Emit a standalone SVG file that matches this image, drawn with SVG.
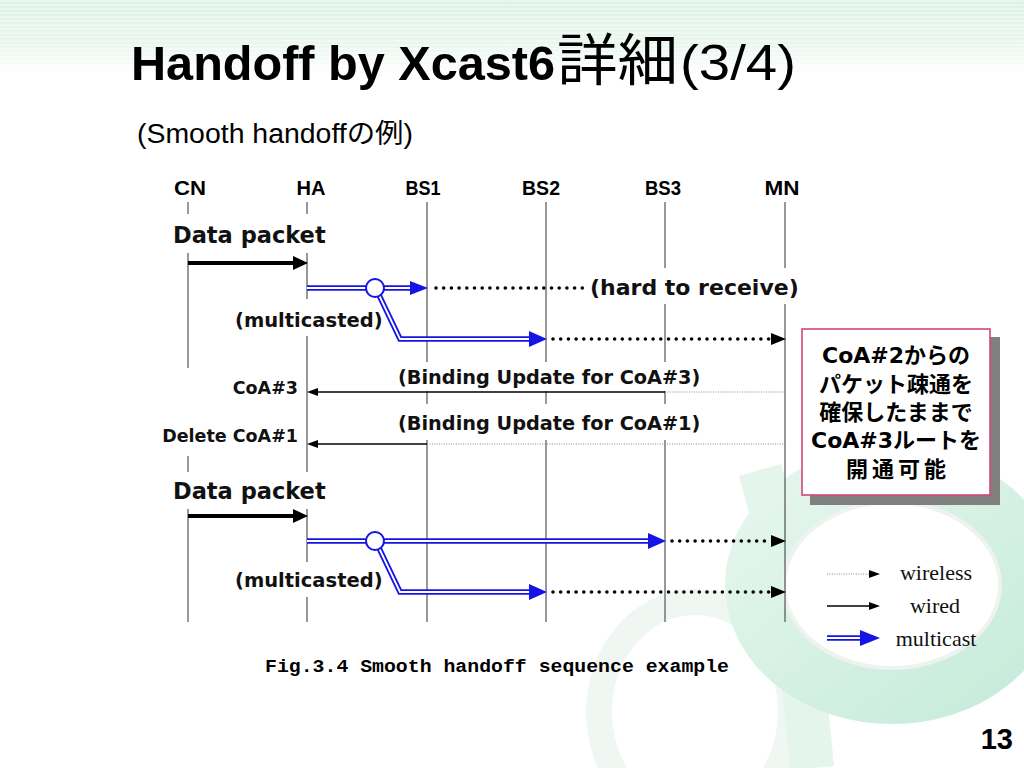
<svg xmlns="http://www.w3.org/2000/svg" width="1024" height="768" viewBox="0 0 1024 768">
<defs>
<linearGradient id="topband" x1="0" y1="0" x2="0" y2="1">
<stop offset="0" stop-color="#dcf2e6"/>
<stop offset="0.6" stop-color="#e9f7ef"/>
<stop offset="1" stop-color="#ffffff"/>
</linearGradient>
<pattern id="stripes" width="8" height="4" patternUnits="userSpaceOnUse">
<rect width="8" height="2" fill="#ffffff" fill-opacity="0.35"/>
</pattern>
<linearGradient id="ring" x1="0" y1="0" x2="1" y2="1">
<stop offset="0" stop-color="#e6f6ee"/>
<stop offset="1" stop-color="#c6ecda"/>
</linearGradient>
<style>
.life{stroke:#333;stroke-width:1;fill:none}
.wipe{fill:#ffffff}
.b{font-family:"DejaVu Sans","Noto Sans CJK JP",sans-serif;font-weight:bold;fill:#111}
.hd{font-family:"Liberation Sans","Noto Sans CJK JP",sans-serif;font-weight:bold;font-size:21px;fill:#000;text-anchor:middle}
.thick{stroke:#000;stroke-width:4;fill:none}
.wired{stroke:#000;stroke-width:1.4;fill:none}
.mco{stroke:#1414e6;stroke-width:5.5;fill:none}
.mci{stroke:#ffffff;stroke-width:1.8;fill:none}
.dots{stroke:#000;stroke-width:3.6;stroke-dasharray:0 7.7;stroke-linecap:round;fill:none}
.wl{stroke:#8a8a8a;stroke-width:1;stroke-dasharray:1 1.4;fill:none}
.ah{fill:#000}
.bh{fill:#1414e6}
.leg{font-family:"Liberation Serif",serif;font-size:22px;fill:#111;text-anchor:middle}
.box{font-family:"DejaVu Sans","Noto Sans CJK JP",sans-serif;font-weight:bold;font-size:22px;fill:#000;text-anchor:middle}
</style>
</defs>

<!-- background -->
<rect width="1024" height="768" fill="#ffffff"/>
<rect x="0" y="0" width="1024" height="74" fill="url(#topband)"/>
<rect x="0" y="0" width="1024" height="66" fill="url(#stripes)"/>
<g id="background-infinity">
<ellipse cx="695" cy="712" rx="96" ry="110" fill="none" stroke="#f0f7f3" stroke-width="26"/>
<path d="M760,470 C780,540 800,630 812,768" fill="none" stroke="#e4f5ec" stroke-width="44"/>
<ellipse cx="892" cy="585" rx="138" ry="110" fill="none" stroke="url(#ring)" stroke-width="58"/>
<ellipse cx="892" cy="585" rx="108" ry="83" fill="#ffffff" stroke="#eef3f0" stroke-width="4"/>
</g>

<!-- title -->
<g id="title">
<text x="131" y="80" font-family="Liberation Sans, sans-serif" font-weight="bold" font-size="48" textLength="424" lengthAdjust="spacingAndGlyphs">Handoff by Xcast6</text>
<text x="557" y="80" font-family="Noto Sans CJK JP, sans-serif" font-size="56" textLength="121" lengthAdjust="spacingAndGlyphs">詳細</text>
<text x="680" y="80" font-family="Liberation Sans, sans-serif" font-size="50" textLength="116" lengthAdjust="spacingAndGlyphs">(3/4)</text>
</g>
<text id="subtitle" x="137" y="143" font-family="Liberation Sans, Noto Sans CJK JP, sans-serif" font-size="27" textLength="276" lengthAdjust="spacingAndGlyphs">(Smooth handoffの例)</text>

<!-- lifelines -->
<g id="lifelines">
<line class="life" x1="188" y1="202" x2="188" y2="622"/>
<line class="life" x1="307" y1="202" x2="307" y2="622"/>
<line class="life" x1="427" y1="202" x2="427" y2="622"/>
<line class="life" x1="546" y1="202" x2="546" y2="622"/>
<line class="life" x1="665" y1="202" x2="665" y2="622"/>
<line class="life" x1="785" y1="202" x2="785" y2="622"/>
</g>
<g id="headers">
<text class="hd" x="190" y="195" textLength="32" lengthAdjust="spacingAndGlyphs">CN</text>
<text class="hd" x="311" y="195" textLength="29" lengthAdjust="spacingAndGlyphs">HA</text>
<text class="hd" x="423" y="195" textLength="35" lengthAdjust="spacingAndGlyphs">BS1</text>
<text class="hd" x="541" y="195" textLength="38" lengthAdjust="spacingAndGlyphs">BS2</text>
<text class="hd" x="663" y="195" textLength="36" lengthAdjust="spacingAndGlyphs">BS3</text>
<text class="hd" x="782" y="195" textLength="35" lengthAdjust="spacingAndGlyphs">MN</text>
</g>

<!-- label backgrounds (break the lifelines) -->
<g id="label-wipes">
<rect class="wipe" x="168" y="214" width="164" height="39"/>
<rect class="wipe" x="586" y="268" width="220" height="36"/>
<rect class="wipe" x="230" y="299" width="155" height="37"/>
<rect class="wipe" x="393" y="362" width="312" height="29"/>
<rect class="wipe" x="393" y="404" width="312" height="36"/>
<rect class="wipe" x="160" y="368" width="141" height="88"/>
<rect class="wipe" x="168" y="472" width="164" height="37"/>
<rect class="wipe" x="230" y="562" width="155" height="35"/>
</g>

<!-- connectors -->
<g id="connectors">
<line class="thick" x1="188" y1="263" x2="296" y2="263"/>
<polygon class="ah" points="293,256 308,263 293,270"/>
<path class="mco" d="M307,288 H367 M383,288 H412"/>
<path class="mci" d="M307,288 H367 M383,288 H412"/>
<polygon class="bh" points="410,281 428,288 410,295"/>
<path class="mco" d="M379,295 L400,339 H532"/>
<path class="mci" d="M379,295 L400,339 H532"/>
<polygon class="bh" points="529,331 547,339 529,347"/>
<circle cx="375" cy="288" r="9" fill="#ffffff" stroke="#1414e6" stroke-width="2"/>
<line class="dots" x1="436" y1="288" x2="583" y2="288"/>
<line class="dots" x1="553" y1="339" x2="770" y2="339"/>
<polygon class="ah" points="771,333 786,339 771,345"/>

<line class="wired" x1="665" y1="392" x2="316" y2="392"/>
<polygon class="ah" points="307,392 318,388 318,396"/>
<line class="wl" x1="665" y1="392" x2="785" y2="392"/>
<line class="wired" x1="427" y1="444" x2="316" y2="444"/>
<polygon class="ah" points="307,444 318,440 318,448"/>
<line class="wl" x1="427" y1="444" x2="785" y2="444"/>

<line class="thick" x1="188" y1="516" x2="296" y2="516"/>
<polygon class="ah" points="293,509 308,516 293,523"/>
<path class="mco" d="M307,541 H367 M383,541 H651"/>
<path class="mci" d="M307,541 H367 M383,541 H651"/>
<polygon class="bh" points="648,533 666,541 648,549"/>
<path class="mco" d="M379,548 L400,592 H532"/>
<path class="mci" d="M379,548 L400,592 H532"/>
<polygon class="bh" points="529,584 547,592 529,600"/>
<circle cx="375" cy="541" r="9" fill="#ffffff" stroke="#1414e6" stroke-width="2"/>
<line class="dots" x1="672" y1="541" x2="770" y2="541"/>
<polygon class="ah" points="771,535 786,541 771,547"/>
<line class="dots" x1="553" y1="592" x2="770" y2="592"/>
<polygon class="ah" points="771,586 786,592 771,598"/>
</g>

<!-- labels -->
<g id="labels">
<text class="b" x="173" y="243" font-size="22.5">Data packet</text>
<text class="b" x="590" y="295" font-size="22">(hard to receive)</text>
<text class="b" x="235" y="327" font-size="19.5">(multicasted)</text>
<text class="b" x="398" y="384" font-size="19.3">(Binding Update for CoA#3)</text>
<text class="b" x="398" y="430" font-size="19.3">(Binding Update for CoA#1)</text>
<text class="b" x="298" y="394" font-size="17.5" text-anchor="end">CoA#3</text>
<text class="b" x="298" y="442" font-size="17.5" text-anchor="end">Delete CoA#1</text>
<text class="b" x="173" y="499" font-size="22.5">Data packet</text>
<text class="b" x="235" y="587" font-size="19.5">(multicasted)</text>
</g>

<!-- note box -->
<g id="note">
<rect x="810" y="337" width="190" height="168" fill="#808080"/>
<rect x="802" y="329" width="188" height="166" fill="#ffffff" stroke="#d2457c" stroke-width="1.6"/>
<text class="box" x="896" y="363">CoA#2からの</text>
<text class="box" x="896" y="392">パケット疎通を</text>
<text class="box" x="896" y="420">確保したままで</text>
<text class="box" x="896" y="448">CoA#3ルートを</text>
<text class="box" x="898" y="477" letter-spacing="4">開通可能</text>
</g>

<!-- legend -->
<g id="legend">
<line class="wl" x1="827" y1="574" x2="870" y2="574" stroke="#444"/>
<polygon class="ah" points="869,570 880,574 869,578"/>
<text class="leg" x="936" y="580">wireless</text>
<line class="wired" x1="827" y1="606" x2="870" y2="606"/>
<polygon class="ah" points="869,602 880,606 869,610"/>
<text class="leg" x="935" y="613">wired</text>
<path class="mco" d="M827,638 H862"/>
<path class="mci" d="M827,638 H862"/>
<polygon class="bh" points="860,630 880,638 860,646"/>
<text class="leg" x="936" y="646">multicast</text>
</g>

<text id="caption" x="265" y="672" font-family="Liberation Mono, monospace" font-weight="bold" font-size="19" textLength="464" lengthAdjust="spacingAndGlyphs">Fig.3.4 Smooth handoff sequence example</text>
<text id="page" x="1013" y="749" font-family="Liberation Sans, sans-serif" font-weight="bold" font-size="29" text-anchor="end">13</text>
</svg>
